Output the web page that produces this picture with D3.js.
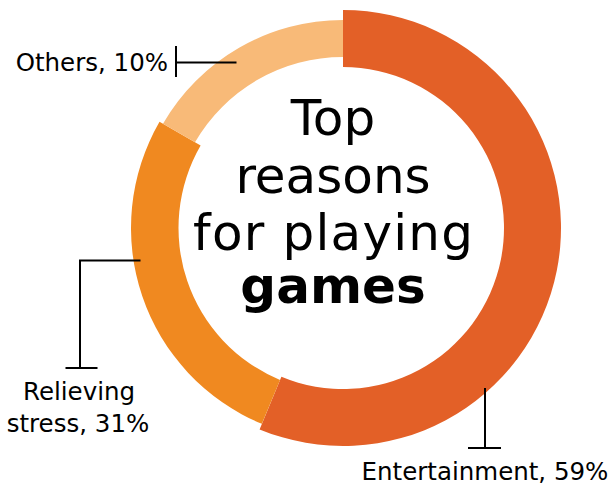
<!DOCTYPE html>
<html>
<head>
<meta charset="utf-8">
<script src="https://cdn.jsdelivr.net/npm/d3@7"></script>
<style>
  html, body { margin: 0; padding: 0; background: #fff; }
  svg { display: block; }
  text { font-family: "DejaVu Sans", sans-serif; fill: #000; }
</style>
</head>
<body>
<svg id="chart" width="613" height="488"></svg>
<script>
// ---- data ----
const categories = ["Entertainment", "Relieving stress", "Others"];
const values = [59, 31, 10];                 // percentages shown in labels
const drawnShare = [56.25, 27.1, 16.65];     // arc share as drawn in the picture
const labelLines = [["Entertainment, 59%"], ["Relieving", "stress, 31%"], ["Others, 10%"]];
const titleLines = ["Top", "reasons", "for playing", "games"];

// ---- styles / geometry ----
const colors = ["#E36027", "#F08920", "#F8BA78"];
const ringRadii = [[161, 218], [164.5, 212], [171, 208]];
const cx = 343, cy = 228;

const svg = d3.select("#chart");
const g = svg.append("g").attr("transform", `translate(${cx},${cy})`);

const pie = d3.pie().sort(null).value(d => d.share);
const data = categories.map((c, i) => ({ name: c, value: values[i], share: drawnShare[i], idx: i }));
const arcs = pie(data);

g.selectAll("path.slice")
  .data(arcs)
  .join("path")
  .attr("class", "slice")
  .attr("fill", d => colors[d.data.idx])
  .attr("d", d => d3.arc()
      .innerRadius(ringRadii[d.data.idx][0])
      .outerRadius(ringRadii[d.data.idx][1])(d));

// ---- center title ----
const title = svg.append("g").attr("transform", "translate(333,0)");
const titleBaselines = [135, 193, 250, 303];
titleLines.forEach((t, i) => {
  title.append("text")
    .attr("x", i === 2 ? 0.6 : 0).attr("y", titleBaselines[i])
    .attr("text-anchor", "middle")
    .attr("font-size", 50)
    .attr("font-weight", i === 3 ? "bold" : "normal")
    .style("letter-spacing", i === 2 ? "1.2px" : null)
    .text(t);
});

// ---- leaders & labels ----
const lines = svg.append("g").attr("stroke", "#000").attr("stroke-width", 2).attr("fill", "none");
// Others
lines.append("path").attr("d", "M176,62.5H236.5");
lines.append("path").attr("d", "M176,46V77");
// Relieving stress
lines.append("path").attr("d", "M140.5,260.5H80V368");
lines.append("path").attr("d", "M65.5,368H97.5");
// Entertainment
lines.append("path").attr("d", "M485,388V448");
lines.append("path").attr("d", "M468,448H501");

const lab = svg.append("g").attr("font-size", 24.5);
lab.append("text").attr("x", 168).attr("y", 71).attr("text-anchor", "end").text(labelLines[2][0]);
lab.append("text").attr("x", 79).attr("y", 400).attr("text-anchor", "middle").text(labelLines[1][0]);
lab.append("text").attr("x", 78).attr("y", 431.5).attr("text-anchor", "middle").text(labelLines[1][1]);
lab.append("text").attr("x", 485).attr("y", 480).attr("text-anchor", "middle").text(labelLines[0][0]);
</script>
</body>
</html>
